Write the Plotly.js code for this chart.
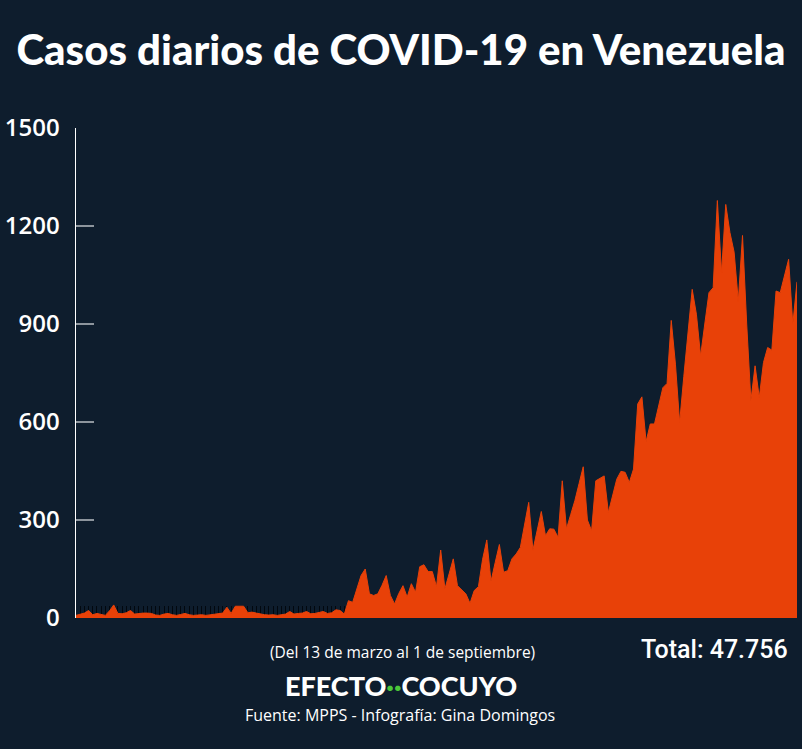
<!DOCTYPE html>
<html>
<head>
<meta charset="utf-8">
<script src="https://cdn.plot.ly/plotly-3.0.1.min.js"></script>
<style>
  html, body { margin: 0; padding: 0; background: #0e1d2d; }
  #chart { width: 802px; height: 749px; }
</style>
</head>
<body>
<div id="chart"></div>
<script>
// Daily new COVID-19 cases in Venezuela, 13 March -> 1 September 2020
const startDate = "2020-03-13";
const dailyCases = [
  // 13 Mar - 31 Mar
  8, 12, 15, 23, 10, 14, 10, 8, 22, 40, 14, 13, 16, 23, 12, 14, 15, 15, 14,
  // April
  9, 8, 12, 14, 10, 8, 11, 14, 10, 8, 9, 10, 8, 10, 12, 13, 15, 33, 14, 36,
  37, 36, 16, 18, 15, 12, 10, 9, 10, 8,
  // May
  9, 12, 20, 12, 14, 15, 20, 13, 14, 16, 20, 14, 16, 25, 23, 12, 53, 48, 92, 130,
  150, 74, 69, 74, 100, 130, 69, 43, 75, 99, 64,
  // June
  105, 79, 157, 163, 142, 142, 96, 208, 89, 135, 181, 99, 86, 74, 45, 84, 96, 180, 239, 112,
  170, 225, 140, 145, 181, 196, 216, 290, 354, 208,
  // July
  270, 326, 252, 273, 272, 247, 420, 273, 316, 359, 411, 463, 300, 267, 420, 427, 435, 323, 374, 425,
  449, 446, 415, 456, 655, 677, 540, 594, 594, 650, 705,
  // August
  718, 911, 777, 598, 740, 879, 1006, 930, 802, 900, 996, 1011, 1278, 1057, 1266, 1180, 1120, 970, 1171, 900,
  665, 772, 675, 782, 828, 820, 1001, 996, 1050, 1098, 899,
  // 1 Sep
  1029
];
const yTickValues = [0, 300, 600, 900, 1200, 1500];
const yTickLabels = ["0", "300", "600", "900", "1200", "1500"];

const titleText = "Casos diarios de COVID-19 en Venezuela";
const periodText = "(Del 13 de marzo al 1 de septiembre)";
const totalText = "Total: 47.756";
const sourceText = "Fuente: MPPS - Infografía: Gina Domingos";

// dates for each day
const dates = [];
const d0 = new Date(startDate + "T00:00:00Z");
for (let i = 0; i < dailyCases.length; i++) {
  const d = new Date(d0.getTime() + i * 86400000);
  dates.push(d.toISOString().slice(0, 10));
}

const bg = "#0e1d2d";
const orange = "#e84108";

const trace = {
  x: dates,
  y: dailyCases,
  type: "scatter",
  mode: "lines",
  fill: "tozeroy",
  fillcolor: orange,
  line: { color: orange, width: 1, shape: "linear" },
  hoverinfo: "skip"
};

const layout = {
  width: 802,
  height: 749,
  paper_bgcolor: bg,
  plot_bgcolor: bg,
  showlegend: false,
  margin: { l: 76, r: 5, t: 128, b: 131, pad: 0 },
  title: {
    text: titleText,
    font: { family: "Lato, 'Open Sans', sans-serif", size: 42, color: "#ffffff", weight: 900 },
    x: 0.5, xanchor: "center",
    xref: "container",
    y: 1 - 50 / 749, yref: "container", yanchor: "middle"
  },
  xaxis: {
    type: "date",
    range: [dates[0], dates[dates.length - 1]],
    showgrid: false,
    zeroline: false,
    showline: false,
    showticklabels: false,
    ticks: "inside",
    ticklen: 12,
    tickwidth: 1,
    tickcolor: "#02080f",
    dtick: 86400000,
    tick0: dates[0],
    layer: "below traces",
    fixedrange: true
  },
  yaxis: {
    range: [0, 1500],
    tickvals: yTickValues,
    ticktext: yTickLabels,
    showgrid: false,
    zeroline: false,
    showline: true,
    linecolor: "#ffffff",
    linewidth: 1.5,
    ticks: "inside",
    ticklen: 18,
    tickwidth: 1.5,
    tickcolor: "#8d959d",
    ticklabelstandoff: 10,
    tickfont: { family: "'Open Sans', sans-serif", size: 24, color: "#ffffff", weight: 600 },
    layer: "below traces",
    fixedrange: true
  },
  annotations: [
    {
      text: periodText,
      xref: "paper", yref: "paper",
      x: (402 - 76) / 721, y: -(651 - 617) / 489,
      xanchor: "center", yanchor: "middle",
      showarrow: false,
      font: { family: "'Open Sans', sans-serif", size: 15.5, color: "#ffffff" }
    },
    {
      text: totalText,
      xref: "paper", yref: "paper",
      x: (790 - 76) / 721, y: -(648 - 617) / 489,
      xanchor: "right", yanchor: "middle",
      showarrow: false,
      font: { family: "Roboto, sans-serif", size: 25, color: "#ffffff", weight: 500 }
    },
    {
      text: "EFECTO<span style='color:#4cc73a'>··</span>COCUYO",
      xref: "paper", yref: "paper",
      x: (401 - 76) / 721, y: -(684 - 617) / 489,
      xanchor: "center", yanchor: "middle",
      showarrow: false,
      font: { family: "Lato, sans-serif", size: 27, color: "#ffffff", weight: 900 }
    },
    {
      text: sourceText,
      xref: "paper", yref: "paper",
      x: (400 - 76) / 721, y: -(714 - 617) / 489,
      xanchor: "center", yanchor: "middle",
      showarrow: false,
      font: { family: "'Open Sans', sans-serif", size: 16, color: "#ffffff" }
    }
  ]
};

Plotly.newPlot("chart", [trace], layout, { staticPlot: true, displayModeBar: false });
</script>
</body>
</html>
